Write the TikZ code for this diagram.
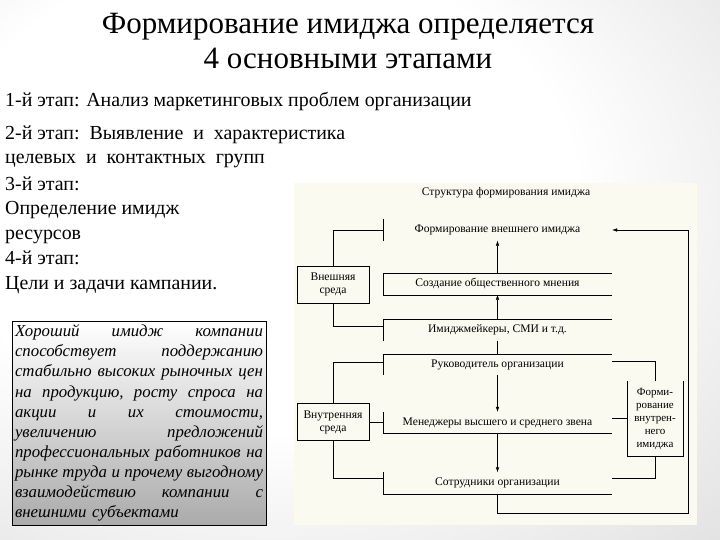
\documentclass[tikz,border=0pt]{standalone}
\usepackage{fontspec}
\setmainfont{Liberation Serif}
\usetikzlibrary{positioning, arrows.meta}

\definecolor{panelcream}{HTML}{FBFAF1}
\newcommand{\fullrow}[1]{\hbox to 248pt{#1}}
\pgfdeclareradialshading{slideglow}{\pgfpoint{-10bp}{10bp}}{%
    color(0bp)=(white); color(22bp)=(white); color(45bp)=(black!13); color(75bp)=(black!27)}

\begin{document}
\begin{tikzpicture}[
    x=1pt, y=-1pt,
    >={Latex[length=5pt, width=3.5pt]},
    stage/.style={anchor=west, align=left, inner sep=0pt, font=\fontsize{19.9}{24.5}\selectfont},
    level/.style={minimum width=229pt, minimum height=21pt, inner sep=0pt, font=\fontsize{11.6}{13}\selectfont},
    env/.style={draw, fill=panelcream, minimum width=72pt, minimum height=37pt, inner sep=0pt, align=center, font=\fontsize{11.6}{13}\selectfont},
    inbox/.style={fill=panelcream, minimum width=56pt, minimum height=75pt, inner sep=0pt, align=center, font=\fontsize{11}{13}\selectfont},
    note/.style={draw, top color=white, bottom color=black!33, text width=248pt, minimum height=204pt, inner sep=3pt, font=\fontsize{16.8}{20.1}\selectfont\itshape}
]

\useasboundingbox (0,0) rectangle (720,540);
\shade[shading=slideglow] (0,0) rectangle (720,540);

% Title
\node[font=\fontsize{31}{35}\selectfont, align=center] (Title) at (348, 41) {Формирование имиджа определяется\\4 основными этапами};

% -------------------------
% Stages
% -------------------------
\node[stage] (Stage1) at (5, 101) {1-й этап: Анализ маркетинговых проблем организации};
\node[stage] (Stage2) at (5, 147) {2-й этап:\ \ Выявление\ \ и\ \ характеристика\\целевых\ \ и\ \ контактных\ \ групп};
\node[stage] (Stage3) at (5, 210) {3-й этап:\\Определение имидж\\ресурсов};
\node[stage] (Stage4) at (5, 272.5) {4-й этап:\\Цели и задачи кампании.};

% Note box
\node[note] (Benefit) at (139, 423) {%
    \fullrow{Хороший\hfill имидж\hfill компании}
    \fullrow{способствует\hfill поддержанию}
    \fullrow{стабильно\hfill высоких\hfill рыночных\hfill цен}
    \fullrow{на\hfill продукцию,\hfill росту\hfill спроса\hfill на}
    \fullrow{акции\hfill и\hfill их\hfill стоимости,}
    \fullrow{увеличению\hfill предложений}
    \fullrow{профессиональных\hfill работников\hfill на}
    \fullrow{рынке\hfill труда\hfill и\hfill прочему\hfill выгодному}
    \fullrow{взаимодействию\hfill компании\hfill с}
    \fullrow{внешними субъектами\hfil}};

% -------------------------
% Structure panel
% -------------------------
\fill[panelcream] (294, 183) rectangle (697, 525);

\node[font=\fontsize{11.6}{13}\selectfont] (StructTitle) at (506, 193) {Структура формирования имиджа};

% Levels
\node[level] (ExtImage) at (497.5, 230) {Формирование внешнего имиджа};
\node[level] (Opinion) at (497.5, 284) {Создание общественного мнения};
\node[level] (Makers) at (497.5, 330) {Имиджмейкеры, СМИ и т.д.};
\node[level] (Head) at (497.5, 364.5) {Руководитель организации};
\node[level] (Managers) at (497.5, 422.5) {Менеджеры высшего и среднего звена};
\node[level] (Staff) at (497.5, 483) {Сотрудники организации};

% Environments
\node[env] (OuterEnv) at (333, 284.5) {Внешняя\\среда};
\node[env] (InnerEnv) at (333, 422) {Внутренняя\\среда};
\node[inbox] (InnerImage) at (655, 418.5) {Форми-\\рование\\внутрен-\\него\\имиджа};

% Open frames of the levels
\draw (ExtImage.north west) -- (ExtImage.south west);
\draw (Opinion.north east) -- (Opinion.north west) -- (Opinion.south west) -- (Opinion.south east);
\draw (Makers.north east) -- (Makers.north west) -- (Makers.south west);
\draw (Head.north east) -- (Head.north west) -- (Head.south west);
\draw (Managers.north west) -- (Managers.south west) -- (Managers.south east);
\draw (Staff.north west) -- (Staff.south west) -- (Staff.south east);
\draw (InnerImage.north west) -- (InnerImage.south west) -- (InnerImage.south east) -- (InnerImage.north east);

% -------------------------
% Connections
% -------------------------
\draw[->] (Opinion.north) -- (ExtImage.south);
\draw[->] (Makers.north) -- (Opinion.south);
\draw (Makers.south) -- (Head.north);
\draw[->] (Head.south) -- (Managers.north);
\draw[->] (Managers.south) -- (Staff.north);

\draw (OuterEnv.north) |- (ExtImage.west);
\draw (OuterEnv.south) |- ([yshift=4pt]Makers.west);
\draw (InnerEnv.north) |- ([yshift=2.5pt]Head.west);
\draw (InnerEnv.east) -- (InnerEnv.east -| Managers.west);
\draw (InnerEnv.south) |- ([yshift=5pt]Staff.west);

\draw ([yshift=3.5pt]Head.east) -| (InnerImage.north);
\draw (InnerImage.west) -- (InnerImage.west -| Managers.east);
\draw ([yshift=5pt]Staff.east) -| (InnerImage.south);

% Feedback loop to the outer image
\coordinate (LoopCorner) at (688, 513);
\draw[->] (Staff.south) |- (LoopCorner) |- (ExtImage.east);

\end{tikzpicture}
\end{document}
